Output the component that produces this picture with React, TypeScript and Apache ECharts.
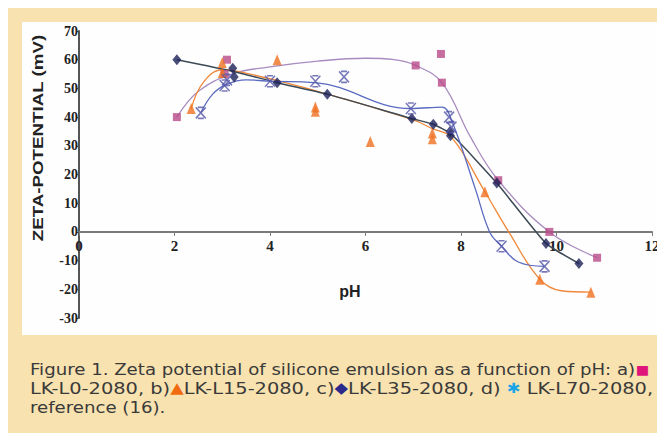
import React, { useEffect, useRef } from "react";
import * as echarts from "echarts";

// Markers (pH, zeta potential mV)
const seriesAPoints: number[][] = [
  [2.05, 40], [3.1, 60], [3.05, 55], [7.05, 58], [7.58, 62], [7.6, 52], [8.78, 18], [9.85, 0], [10.85, -9],
];
const seriesBPoints: number[][] = [
  [2.35, 43], [3.0, 59], [3.0, 55.5], [4.15, 60], [4.95, 42], [4.95, 43.5], [6.1, 31.5], [7.4, 34.5], [7.4, 32.5],
  [8.5, 14], [9.65, -16.5], [10.72, -21],
];
const seriesCPoints: number[][] = [
  [2.05, 60], [3.22, 57], [3.25, 54], [4.15, 52], [5.2, 48], [6.97, 39.5], [7.42, 37.5], [7.77, 35], [7.78, 33.5],
  [8.75, 17], [9.78, -4], [10.47, -11],
];
const seriesDPoints: number[][] = [
  [2.55, 41.5], [3.05, 51], [3.1, 53], [4.0, 52.5], [4.95, 52.5], [5.55, 54], [6.95, 43], [7.75, 40], [7.8, 36.5],
  [8.85, -5], [9.75, -12],
];

// Curves
const curveA: number[][] = [
  [2.05, 40], [2.5, 49], [3.2, 55], [4, 57.5], [5, 59.5], [6, 60.5], [6.6, 60], [7.05, 58], [7.6, 52],
  [8.2, 33], [8.78, 18], [9.85, 0], [10.85, -9],
];
const curveB: number[][] = [
  [2.35, 43], [2.6, 52], [3.0, 56.5], [3.3, 56], [4.2, 52.5], [5.2, 48], [7.0, 39], [7.4, 36], [7.8, 33],
  [8.5, 14], [9.0, 0], [9.65, -16.5], [10.1, -20.5], [10.72, -21],
];
const curveC: number[][] = [
  [2.05, 60], [3.22, 56], [4.15, 52], [5.2, 48], [6.97, 39.5], [7.42, 37.5], [7.8, 34], [8.75, 17], [9.78, -4],
  [10.47, -11],
];
const curveD: number[][] = [
  [2.55, 41.5], [2.8, 48], [3.1, 51.5], [3.5, 53], [4.0, 52.5], [4.95, 52], [6.95, 43], [7.6, 43.5], [7.8, 39],
  [8.3, 15], [8.6, 0], [8.85, -5], [9.2, -10.5], [9.75, -12],
];

const xTicks = { min: 0, max: 12, interval: 2 };
const yTicks = { min: -30, max: 70, interval: 10 };

const captionLines = [
  "Figure 1. Zeta potential of silicone emulsion as a function of pH: a)",
  "reference (16).",
];

const starPath = "path://M0,0L10,10M10,0L0,10M2,0L8,0M2,10L8,10";

export default function App() {
  const ref = useRef<HTMLDivElement>(null);
  useEffect(() => {
    if (!ref.current) return;
    const chart = echarts.init(ref.current, null, { renderer: "svg" });
    const serif = "'Liberation Serif', 'Times New Roman', serif";
    const sans = "'Liberation Sans', Arial, sans-serif";
    const capSans = "'DejaVu Sans', sans-serif";
    const capFont = 16.5;
    const gridTop = 31;
    const gridBottom = 123;
    const plotH = 441 - gridTop - gridBottom;
    const zeroY = gridTop + (plotH * yTicks.max) / (yTicks.max - yTicks.min);
    const xOffset = -(441 - gridBottom - zeroY);
    chart.setOption({
      animation: false,
      backgroundColor: "#f8e2b0",
      grid: { left: 79, right: 13, top: gridTop, bottom: gridBottom, containLabel: false },
      xAxis: {
        type: "value",
        min: xTicks.min,
        max: xTicks.max,
        interval: xTicks.interval,
        offset: xOffset,
        axisLine: { onZero: false, lineStyle: { color: "#7a7a7a", width: 2 } },
        axisTick: { show: true, length: 4, lineStyle: { color: "#7a7a7a" } },
        axisLabel: { fontFamily: serif, fontWeight: "bold", fontSize: 15, color: "#222", margin: 7 },
        splitLine: { show: false },
      },
      yAxis: {
        type: "value",
        min: yTicks.min,
        max: yTicks.max,
        interval: yTicks.interval,
        axisLine: { onZero: false, lineStyle: { color: "#555", width: 2 } },
        axisTick: { show: true, length: 3, lineStyle: { color: "#555" } },
        axisLabel: { fontFamily: serif, fontWeight: "bold", fontSize: 14, color: "#222", margin: 1 },
        splitLine: { show: false },
      },
      graphic: [
        { type: "rect", z: -10, shape: { x: 22, y: 22, width: 643, height: 313 }, style: { fill: "#fefefe" } },
        {
          type: "text", x: 38, y: 138, rotation: Math.PI / 2, scaleX: 1.25,
          style: { text: "ZETA-POTENTIAL (mV)", font: `bold 15px ${sans}`, fill: "#222", align: "center", verticalAlign: "middle" },
        },
        {
          type: "text", x: 350, y: 291,
          style: { text: "pH", font: `bold 16px ${sans}`, fill: "#222", align: "center", verticalAlign: "middle" },
        },
        {
          type: "text", x: 30, y: 369, scaleX: 1.1,
          style: {
            text: captionLines[0] + "{pk|■}",
            font: `${capFont}px ${capSans}`, fill: "#3a3a3a", verticalAlign: "middle",
            rich: { pk: { fill: "#e0137a", fontSize: 13, fontFamily: "DejaVu Sans" } },
          },
        },
        {
          type: "text", x: 30, y: 388, scaleX: 1.175,
          style: {
            text: "LK-L0-2080, b){or|▲}LK-L15-2080, c){nv|◆}LK-L35-2080, d) {cy|✱} LK-L70-2080,",
            font: `${capFont}px ${capSans}`, fill: "#3a3a3a", verticalAlign: "middle",
            rich: {
              or: { fill: "#f26a10", fontSize: 15, fontFamily: "DejaVu Sans" },
              nv: { fill: "#2b2a8c", fontSize: 15, fontFamily: "DejaVu Sans" },
              cy: { fill: "#1aa4e8", fontSize: 14, fontFamily: "DejaVu Sans" },
            },
          },
        },
        {
          type: "text", x: 30, y: 407, scaleX: 1.1,
          style: { text: captionLines[1], font: `${capFont}px ${capSans}`, fill: "#3a3a3a", verticalAlign: "middle" },
        },
      ],
      series: [
        { type: "line", data: curveA, smooth: 0.4, showSymbol: false, lineStyle: { color: "#a88cc0", width: 1.3 }, z: 2 },
        { type: "line", data: curveB, smooth: 0.4, showSymbol: false, lineStyle: { color: "#f0883a", width: 1.3 }, z: 2 },
        { type: "line", data: curveC, smooth: 0.15, showSymbol: false, lineStyle: { color: "#3c4a56", width: 1.5 }, z: 2 },
        { type: "line", data: curveD, smooth: 0.4, showSymbol: false, lineStyle: { color: "#5a6ac0", width: 1.3 }, z: 2 },
        { type: "scatter", data: seriesAPoints, symbol: "rect", symbolSize: 8, itemStyle: { color: "#b84a88" }, z: 3 },
        { type: "scatter", data: seriesBPoints, symbol: "triangle", symbolSize: [9, 11], itemStyle: { color: "#f07020" }, z: 3 },
        { type: "scatter", data: seriesCPoints, symbol: "diamond", symbolSize: [9, 11], itemStyle: { color: "#1c2058" }, z: 4 },
        {
          type: "scatter", data: seriesDPoints, symbol: starPath, symbolSize: [10, 11],
          itemStyle: { color: "rgba(0,0,0,0)", borderColor: "#5558a8", borderWidth: 1.6 }, z: 4,
        },
      ],
    });
    return () => chart.dispose();
  }, []);
  return <div ref={ref} style={{ width: 665, height: 441, margin: -8 }} />;
}
